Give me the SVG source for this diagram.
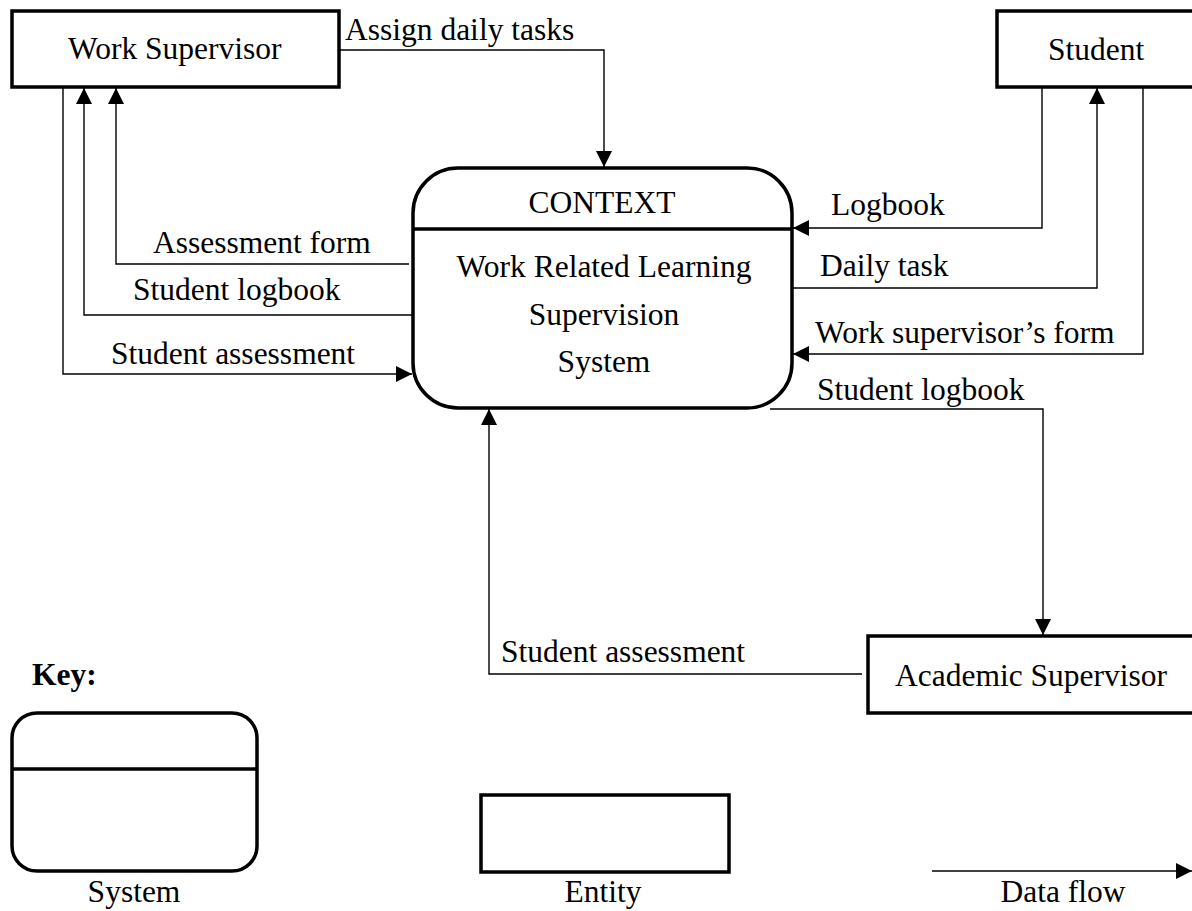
<svg xmlns="http://www.w3.org/2000/svg" width="1192" height="911" viewBox="0 0 1192 911">
  <style>
    text { font-family: "Liberation Serif", "Times New Roman", serif; font-size: 31.5px; fill: #000; }
    .mid { text-anchor: middle; }
    .key { font-weight: bold; }
    .entity { fill: #fff; stroke: #000; stroke-width: 3.5; }
    .system { fill: #fff; stroke: #000; stroke-width: 3.5; }
    .divider { stroke: #000; stroke-width: 3.5; }
    .flow { fill: none; stroke: #000; stroke-width: 1.4; }
  </style>
  <defs>
    <marker id="arrow" markerUnits="userSpaceOnUse" markerWidth="17" markerHeight="16" refX="16" refY="8" orient="auto">
      <path d="M0,0 L16,8 L0,16 Z" fill="#000"/>
    </marker>
  </defs>
  <rect width="1192" height="911" fill="#fff"/>

  <!-- data flows -->
  <g id="connectors" class="flow">
    <path class="flow" d="M339,50 H604 V167" marker-end="url(#arrow)"/>
    <path class="flow" d="M409,264 H116 V88" marker-end="url(#arrow)"/>
    <path class="flow" d="M413,315 H84 V88" marker-end="url(#arrow)"/>
    <path class="flow" d="M63,87 V374 H412" marker-end="url(#arrow)"/>
    <path class="flow" d="M1042,87 V228 H793" marker-end="url(#arrow)"/>
    <path class="flow" d="M793,288 H1097 V88" marker-end="url(#arrow)"/>
    <path class="flow" d="M1143,87 V354 H793" marker-end="url(#arrow)"/>
    <path class="flow" d="M770,409 H1043 V635" marker-end="url(#arrow)"/>
    <path class="flow" d="M862,674 H489 V409" marker-end="url(#arrow)"/>
  </g>

  <!-- flow labels -->
  <g id="flow-labels">
    <text x="345" y="40">Assign daily tasks</text>
    <text x="153" y="253">Assessment form</text>
    <text x="133" y="300">Student logbook</text>
    <text x="111" y="364">Student assessment</text>
    <text x="831" y="215">Logbook</text>
    <text x="820" y="276">Daily task</text>
    <text x="815" y="343">Work supervisor’s form</text>
    <text x="817" y="400">Student logbook</text>
    <text x="501" y="662">Student assessment</text>
  </g>

  <g id="work-supervisor">
    <rect class="entity" x="12" y="11" width="327" height="76"/>
    <text x="68" y="59">Work Supervisor</text>
  </g>

  <g id="student">
    <rect class="entity" x="997" y="11" width="200" height="76"/>
    <text x="1048" y="60">Student</text>
  </g>

  <g id="academic-supervisor">
    <rect class="entity" x="868" y="636" width="330" height="77"/>
    <text x="895" y="686">Academic Supervisor</text>
  </g>

  <g id="context-system">
    <rect class="system" x="413" y="168" width="379" height="240" rx="45" ry="45"/>
    <line class="divider" x1="413" y1="229" x2="792" y2="229"/>
    <text class="mid" x="602" y="213">CONTEXT</text>
    <text class="mid" x="604" y="277">Work Related Learning</text>
    <text class="mid" x="604" y="325">Supervision</text>
    <text class="mid" x="604" y="372">System</text>
  </g>

  <!-- legend -->
  <g id="key">
    <text class="key" x="32" y="685">Key:</text>
    <g id="key-system">
      <rect class="system" x="12" y="713" width="245" height="158" rx="25" ry="25"/>
      <line class="divider" x1="12" y1="769" x2="257" y2="769"/>
      <text class="mid" x="134" y="902">System</text>
    </g>
    <g id="key-entity">
      <rect class="entity" x="481" y="795" width="248" height="77"/>
      <text class="mid" x="603" y="902">Entity</text>
    </g>
    <g id="key-flow">
      <path class="flow" d="M932,871 H1192" marker-end="url(#arrow)"/>
      <text class="mid" x="1063" y="902">Data flow</text>
    </g>
  </g>
</svg>
